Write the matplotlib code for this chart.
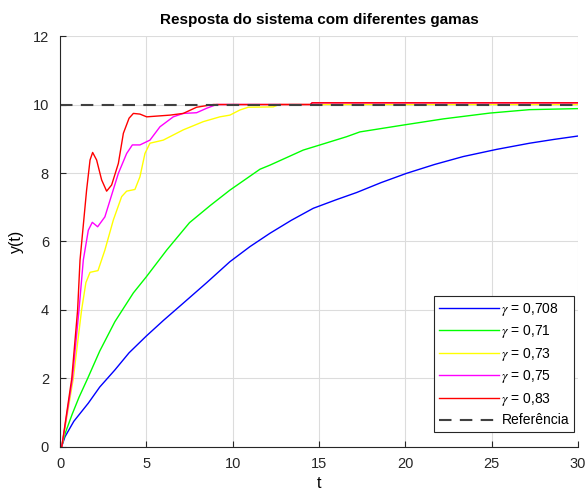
import numpy as np
import matplotlib
matplotlib.use('Agg')
from matplotlib import pyplot as plt

plt.rcParams['font.family'] = ['Liberation Sans', 'DejaVu Sans']
plt.rcParams['mathtext.fontset'] = 'stix'

# valores
t_708 = [0, 0.1, 0.29, 0.8, 1.64, 2.3, 3.18, 4, 5, 6, 7.14, 8.5, 9.84, 11, 12.16, 13.4, 14.67, 16,
         17.18, 18.6, 20.07, 21.7, 23.35, 25.29, 27.2, 28.6, 30]
y_708 = [0, 0.02, 0.3, 0.75, 1.28, 1.75, 2.25, 2.75, 3.24, 3.7, 4.2, 4.8, 5.41, 5.85, 6.24, 6.62, 6.97,
         7.22, 7.43, 7.72, 7.99, 8.25, 8.48, 8.69, 8.87, 8.98, 9.08]

t_71 = [0, 0.1, 0.3, 0.7, 1.1, 1.6, 2.3, 3.18, 4.25, 5, 6.18, 7.5, 8.7, 9.84, 11.58, 12.16, 14.09,
        15.06, 16.6, 17.37, 19.88, 22.2, 24.9, 27.2, 30]
y_71 = [0, 0.02, 0.4, 0.95, 1.45, 2.0, 2.8, 3.66, 4.5, 4.97, 5.75, 6.55, 7.05, 7.5, 8.11, 8.23, 8.67,
        8.82, 9.06, 9.2, 9.4, 9.58, 9.75, 9.85, 9.88]

t_73 = [0, 0.1, 0.77, 1.25, 1.5, 1.74, 2.2, 2.6, 3.09, 3.57, 3.86, 4.34, 4.63, 4.92, 5.21, 5.98, 7.14,
        8.3, 9.26, 9.84, 10.42, 10.9, 12.35, 12.7, 30]
y_73 = [0, 0.0, 2.0, 4.0, 4.8, 5.1, 5.15, 5.75, 6.63, 7.31, 7.47, 7.52, 7.89, 8.57, 8.87, 8.96, 9.26,
        9.5, 9.64, 9.69, 9.84, 9.92, 9.93, 10.0, 10.0]

t_75 = [0, 0.1, 0.72, 1.1, 1.35, 1.64, 1.87, 2.18, 2.6, 2.9, 3.38, 3.86, 4.19, 4.63, 5.21, 5.79, 6.56,
        7.14, 7.91, 8.49, 9.07, 14.5, 14.6, 30]
y_75 = [0, 0.0, 2.0, 4.0, 5.46, 6.33, 6.56, 6.43, 6.72, 7.21, 7.99, 8.57, 8.82, 8.82, 8.96, 9.35, 9.64,
        9.74, 9.76, 9.89, 10.0, 10.0, 10.05, 10.05]

t_83 = [0, 0.1, 0.68, 1.02, 1.16, 1.54, 1.74, 1.89, 2.12, 2.41, 2.7, 2.99, 3.38, 3.67, 4.0, 4.25, 4.63,
        5.02, 6.37, 7.14, 7.91, 8.88, 14.5, 14.6, 30]
y_83 = [0, 0.0, 2.0, 4.0, 5.46, 7.5, 8.38, 8.6, 8.38, 7.8, 7.47, 7.65, 8.28, 9.16, 9.6, 9.74, 9.72,
        9.64, 9.69, 9.74, 9.92, 10.0, 10.0, 10.05, 10.05]

ref = 10

fig = plt.figure(figsize=(5.86, 4.92), dpi=100)
ax = fig.add_axes([0.1024, 0.0915, 0.8839, 0.8353])

ax.plot(t_708, y_708, color='#0000ff', lw=1, label=r'$\gamma$ = 0,708')
ax.plot(t_71, y_71, color='#00ff00', lw=1, label=r'$\gamma$ = 0,71')
ax.plot(t_73, y_73, color='#ffff00', lw=1, label=r'$\gamma$ = 0,73')
ax.plot(t_75, y_75, color='#ff00ff', lw=1, label=r'$\gamma$ = 0,75')
ax.plot(t_83, y_83, color='#ff0000', lw=1, label=r'$\gamma$ = 0,83')
ax.plot([0, 30], [ref, ref], '--', color='#404040', lw=1.5, dashes=(6, 4), label='Referência')

ax.set_xlim(0, 30)
ax.set_ylim(0, 12)
ax.set_xticks(np.arange(0, 31, 5))
ax.set_yticks(np.arange(0, 13, 2))
ax.grid(True, color='#dcdcdc', lw=0.8)
ax.set_axisbelow(True)
for s in ['top', 'right']:
    ax.spines[s].set_visible(False)
for s in ['left', 'bottom']:
    ax.spines[s].set_color('#262626')
ax.tick_params(direction='in', length=4, colors='#262626', labelsize=10.5)
ax.tick_params(axis='x', pad=7)
ax.tick_params(axis='y', pad=8)

ax.set_title('Resposta do sistema com diferentes gamas', fontsize=11, fontweight='bold', pad=9)
ax.set_xlabel('t', fontsize=11.5, labelpad=4)
ax.set_ylabel('y(t)', fontsize=11.5, labelpad=6)

leg = ax.legend(loc='lower right', bbox_to_anchor=(0.9923, 0.0358), fontsize=10, fancybox=False,
                framealpha=1, edgecolor='#262626', handlelength=4.3, handletextpad=0.2,
                borderaxespad=0, labelspacing=0.4, borderpad=0.35)
leg.get_frame().set_linewidth(0.8)

fig.savefig('out.png', dpi=100)
